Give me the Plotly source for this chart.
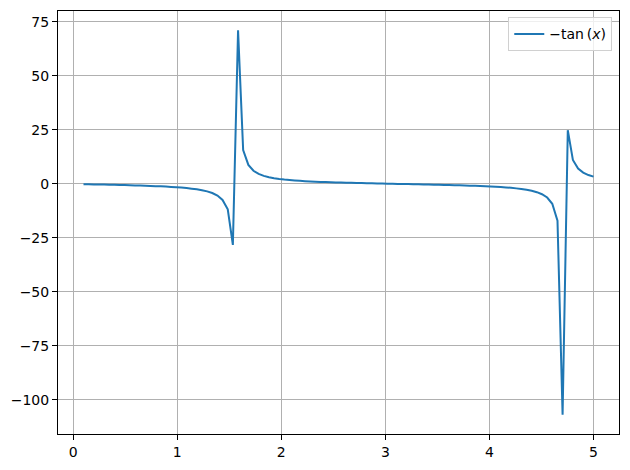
import plotly.graph_objects as go

# sample points along x (100 samples between 0.1 and 5)
x_vals = [
    0.100, 0.149, 0.199, 0.248, 0.298, 0.347, 0.397, 0.446, 0.496, 0.545,
    0.595, 0.644, 0.694, 0.743, 0.793, 0.842, 0.892, 0.941, 0.991, 1.040,
    1.090, 1.139, 1.189, 1.238, 1.288, 1.337, 1.387, 1.436, 1.486, 1.535,
    1.585, 1.634, 1.684, 1.733, 1.783, 1.832, 1.882, 1.931, 1.981, 2.030,
    2.080, 2.129, 2.179, 2.228, 2.278, 2.327, 2.377, 2.426, 2.476, 2.525,
    2.575, 2.624, 2.674, 2.723, 2.773, 2.822, 2.872, 2.921, 2.971, 3.020,
    3.070, 3.119, 3.169, 3.218, 3.268, 3.317, 3.367, 3.416, 3.466, 3.515,
    3.565, 3.614, 3.664, 3.713, 3.763, 3.812, 3.862, 3.911, 3.961, 4.010,
    4.060, 4.109, 4.159, 4.208, 4.258, 4.307, 4.357, 4.406, 4.456, 4.505,
    4.555, 4.604, 4.654, 4.703, 4.753, 4.802, 4.852, 4.901, 4.951, 5.000,
]

# -tan(x) values
y_vals = [
    -0.100, -0.151, -0.202, -0.254, -0.307, -0.362, -0.419, -0.478, -0.540, -0.605,
    -0.675, -0.749, -0.829, -0.916, -1.011, -1.117, -1.235, -1.368, -1.521, -1.700,
    -1.912, -2.170, -2.489, -2.898, -3.440, -4.207, -5.376, -7.396, -11.75, -28.24,
    71.16, 15.72, 8.809, 6.098, 4.645, 3.736, 3.111, 2.652, 2.301, 2.019,
    1.793, 1.603, 1.436, 1.295, 1.171, 1.059, 0.960, 0.869, 0.786, 0.708,
    0.636, 0.569, 0.506, 0.445, 0.387, 0.331, 0.277, 0.224, 0.173, 0.122,
    0.072, 0.022, -0.027, -0.077, -0.127, -0.177, -0.229, -0.282, -0.336, -0.392,
    -0.451, -0.512, -0.577, -0.643, -0.715, -0.794, -0.878, -0.969, -1.070, -1.183,
    -1.307, -1.452, -1.616, -1.813, -2.046, -2.332, -2.690, -3.161, -3.808, -4.755,
    -6.281, -9.194, -16.97, -106.85, 24.90, 11.13, 7.141, 5.239, 4.120, 3.380,
]

x_ticks = [0, 1, 2, 3, 4, 5]
y_ticks = [-100, -75, -50, -25, 0, 25, 50, 75]
y_tick_text = ["\u2212100", "\u221275", "\u221250", "\u221225", "0", "25", "50", "75"]

fig = go.Figure()
fig.add_trace(go.Scatter(
    x=x_vals, y=y_vals, mode="lines",
    name="\u2212tan\u2009(<i>x</i>)",
    line=dict(color="#1f77b4", width=2, simplify=False),
))

axis_common = dict(
    showgrid=True, gridcolor="#b0b0b0", gridwidth=1,
    showline=True, linecolor="black", linewidth=1, mirror=True,
    ticks="outside", ticklen=5, tickwidth=1, tickcolor="black",
    zeroline=False,
    tickfont=dict(family="DejaVu Sans", size=14, color="black"),
)

fig.update_xaxes(range=[-0.145, 5.245], tickvals=x_ticks, **axis_common)
fig.update_yaxes(range=[-115.75, 80.06], tickvals=y_ticks, ticktext=y_tick_text, **axis_common)

fig.update_layout(
    width=630, height=470,
    margin=dict(l=58, r=10, t=10, b=34),
    paper_bgcolor="white", plot_bgcolor="white",
    font=dict(family="DejaVu Sans", size=14, color="black"),
    showlegend=True,
    legend=dict(
        x=0.988, y=0.985, xanchor="right", yanchor="top",
        bgcolor="rgba(255,255,255,0.8)", bordercolor="#d0d0d0", borderwidth=1,
        font=dict(family="DejaVu Sans", size=14),
    ),
)

# drop the page's default body margin so the figure sits at the window corner
fig.write_html(
    "out.html",
    config={"displayModeBar": False},
    post_script="document.body.style.margin='0';",
)
